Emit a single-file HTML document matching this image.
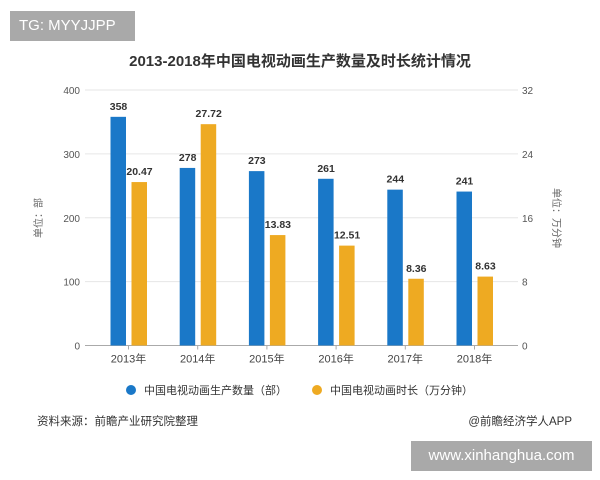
<!DOCTYPE html>
<html><head><meta charset="utf-8"><style>
body{margin:0;width:600px;height:480px;background:#fff;overflow:hidden;font-family:"Liberation Sans","Noto Sans CJK SC",sans-serif;position:relative}
.tg{position:absolute;left:10px;top:11px;width:125px;height:30px;background:#a9a9a9;color:#fff;font-size:15px;line-height:30px;text-indent:9px}
.wm{position:absolute;left:411px;top:441px;width:181px;height:30px;background:#a9a9a9;color:#fff;font-size:15px;line-height:30px;text-align:center}
</style></head><body>
<div class="tg">TG: MYYJJPP</div>
<svg id="c" width="600" height="480" style="position:absolute;left:0;top:0"></svg>
<div class="wm">www.xinhanghua.com</div>
<script>
const categories=["2013年","2014年","2015年","2016年","2017年","2018年"];
const countValues=[358,278,273,261,244,241];
const durationValues=[20.47,27.72,13.83,12.51,8.36,8.63];
const leftTicks=[0,100,200,300,400];
const rightTicks=[0,8,16,24,32];
const svg=document.getElementById('c');
const NS='http://www.w3.org/2000/svg';
function mk(t,a,txt){const e=document.createElementNS(NS,t);for(const k in a)e.setAttribute(k,a[k]);if(txt!=null)e.textContent=txt;svg.appendChild(e);return e;}
const yTop=90,bot=345.5,x0=85,x1=518;
const yL=v=>bot-(v/400)*(bot-yTop);
const yR=v=>bot-(v/32)*(bot-yTop);
const xC=i=>128.5+i*69.2;
let e;
e=mk('text',{x:300,y:66,'text-anchor':'middle','font-size':15,'font-weight':'bold',fill:'#333'},'2013-2018年中国电视动画生产数量及时长统计情况');


leftTicks.forEach((t,i)=>{
 const y=yL(t);
 if(t>0){e=mk('line',{x1:x0,x2:x1,y1:y,y2:y,stroke:'#e6e6e6','stroke-width':1});
 
 }
 e=mk('text',{x:80,y:y+4,'text-anchor':'end','font-size':10,fill:'#555'},t);
 
 
});
rightTicks.forEach(t=>{
 e=mk('text',{x:522,y:yR(t)+4,'font-size':10,fill:'#555'},t);
 
 
});
e=mk('line',{x1:x0,x2:x1,y1:bot,y2:bot,stroke:'#aaa'});


e=mk('text',{x:0,y:0,transform:'translate(42,218) rotate(-90)','text-anchor':'middle','font-size':10,fill:'#666'},'单位：部');


e=mk('text',{x:0,y:0,transform:'translate(553,218) rotate(90)','text-anchor':'middle','font-size':10,fill:'#666'},'单位：万分钟');


categories.forEach((c,i)=>{
 const cx=xC(i);
 e=mk('line',{x1:cx,x2:cx,y1:bot,y2:bot+4,stroke:'#aaa'});
 
 
 e=mk('text',{x:cx,y:bot+17,'text-anchor':'middle','font-size':11,fill:'#444'},c);
 
 
 const yb=yL(countValues[i]);
 e=mk('rect',{x:cx-18,y:yb,width:15.5,height:bot-yb,fill:'#1a78c8'});
 
 
 e=mk('text',{x:cx-10,y:yb-7,'text-anchor':'middle','font-size':10.5,'font-weight':'bold',fill:'#333'},countValues[i]);
 
 
 const yo=yR(durationValues[i]);
 e=mk('rect',{x:cx+3,y:yo,width:15.5,height:bot-yo,fill:'#eeaa22'});
 
 
 e=mk('text',{x:cx+11,y:yo-7,'text-anchor':'middle','font-size':10.5,'font-weight':'bold',fill:'#333'},durationValues[i].toFixed(2));
 
 
});
e=mk('circle',{cx:131,cy:390,r:5,fill:'#1a78c8'});


e=mk('text',{x:144,y:394,'font-size':11,fill:'#333'},'中国电视动画生产数量（部）');


e=mk('circle',{cx:317,cy:390,r:5,fill:'#eeaa22'});


e=mk('text',{x:330,y:394,'font-size':11,fill:'#333'},'中国电视动画时长（万分钟）');


e=mk('text',{x:37,y:425,'font-size':11.5,fill:'#333'},'资料来源：前瞻产业研究院整理');


e=mk('text',{x:572,y:425,'text-anchor':'end','font-size':11.5,fill:'#333'},'@前瞻经济学人APP');


</script>
</body></html>
